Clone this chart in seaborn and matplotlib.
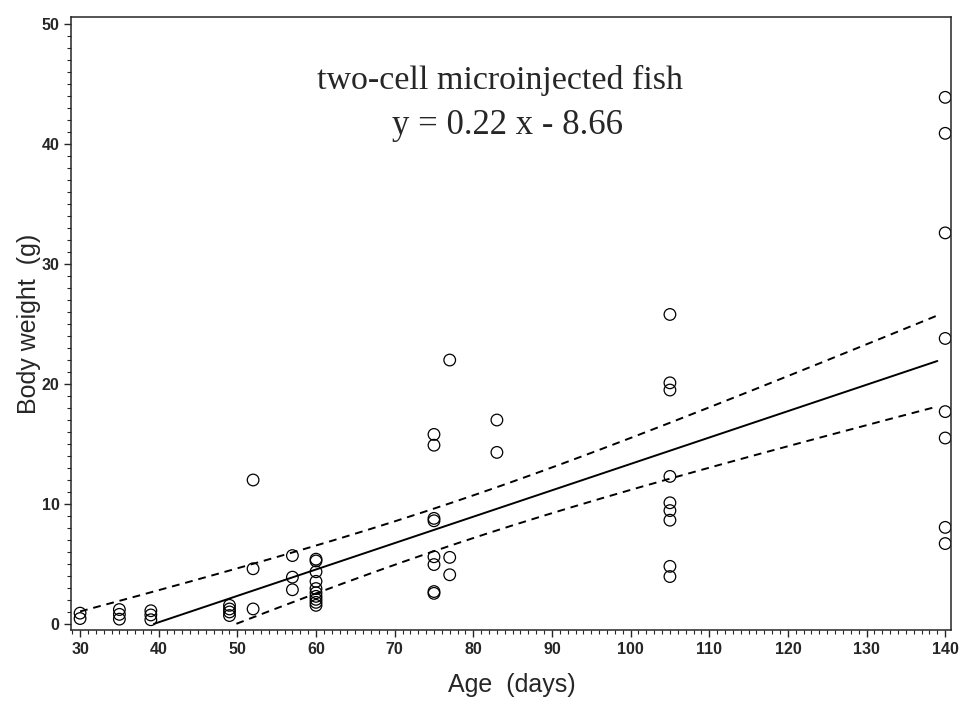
import numpy as np
import pandas as pd
import matplotlib
matplotlib.use("Agg")
import matplotlib.pyplot as plt
import seaborn as sns
from matplotlib.ticker import MultipleLocator

# body weight (g) per sampling age (days)
ages = [30, 35, 39, 49, 52, 57, 60, 75, 77, 83, 105, 140]
weights = [
    [0.9, 0.45],
    [1.2, 0.8, 0.4],
    [1.1, 0.75, 0.35],
    [1.55, 1.25, 1.0, 0.7],
    [12.0, 4.6, 1.25],
    [5.7, 3.9, 2.85],
    [5.4, 5.25, 4.35, 3.55, 2.95, 2.6, 2.3, 2.05, 1.8, 1.55],
    [15.8, 14.9, 8.8, 8.6, 5.6, 4.95, 2.7, 2.55],
    [22.0, 5.55, 4.1],
    [17.0, 14.3],
    [25.8, 20.1, 19.5, 12.3, 10.1, 9.45, 8.65, 4.8, 3.95],
    [43.9, 40.9, 32.6, 23.8, 17.7, 15.5, 8.05, 6.7],
]

# equation printed on the chart
slope = 0.22
intercept = -8.66
line_range = [30, 139]

df = pd.DataFrame({
    "age": [a for a, w in zip(ages, weights) for _ in w],
    "weight": [v for w in weights for v in w],
})

# 95% confidence band for the mean around the fitted line
x = df["age"].to_numpy()
y = df["weight"].to_numpy()
n = len(x)
b1, b0 = np.polyfit(x, y, 1)
s = np.sqrt(np.sum((y - (b0 + b1 * x)) ** 2) / (n - 2))
sxx = np.sum((x - x.mean()) ** 2)
t = 2.004

xs = np.linspace(line_range[0], line_range[1], 500)
fit = intercept + slope * xs
half = t * s * np.sqrt(1 / n + (xs - x.mean()) ** 2 / sxx)
upper = fit + half
lower = fit - half

def above_zero(v):
    # the original only draws the lines above y = 0
    return np.where(v >= 0, v, np.nan)

sns.set_style("ticks")
plt.rcParams["font.family"] = ["Liberation Sans", "DejaVu Sans"]

fig, ax = plt.subplots(figsize=(9.65, 7.07), dpi=100)
fig.subplots_adjust(left=0.074, right=0.986, top=0.976, bottom=0.109)

sns.scatterplot(data=df, x="age", y="weight", ax=ax, marker="o", s=70,
                facecolor="none", edgecolor="black", linewidth=0.9, legend=False)

ax.plot(xs, above_zero(fit), color="black", lw=1.4)
ax.plot(xs, above_zero(upper), color="black", lw=1.4, ls=(0, (4, 3)))
ax.plot(xs, above_zero(lower), color="black", lw=1.4, ls=(0, (4, 3)))

ax.set_xlim(28.9, 140.8)
ax.set_ylim(-0.5, 50.6)
ax.xaxis.set_major_locator(MultipleLocator(10))
ax.xaxis.set_minor_locator(MultipleLocator(1))
ax.yaxis.set_major_locator(MultipleLocator(10))
ax.yaxis.set_minor_locator(MultipleLocator(1))
ax.tick_params(which="major", direction="out", length=5, width=1, labelsize=11.5)
ax.tick_params(which="minor", direction="out", length=3, width=0.8)
for lab in ax.get_xticklabels() + ax.get_yticklabels():
    lab.set_fontweight("bold")
for sp in ax.spines.values():
    sp.set_linewidth(1.1)

ax.set_xlabel("Age  (days)", fontsize=18, labelpad=12)
ax.set_ylabel("Body weight  (g)", fontsize=18, labelpad=0.5)

ax.text(0.4875, 0.897, "two-cell microinjected fish", transform=ax.transAxes,
        ha="center", va="center", fontsize=24.5, family="Liberation Serif")
ax.text(0.495, 0.823, "y = 0.22 x - 8.66", transform=ax.transAxes,
        ha="center", va="center", fontsize=25, family="Liberation Serif")

fig.savefig("out.png", dpi=100)
